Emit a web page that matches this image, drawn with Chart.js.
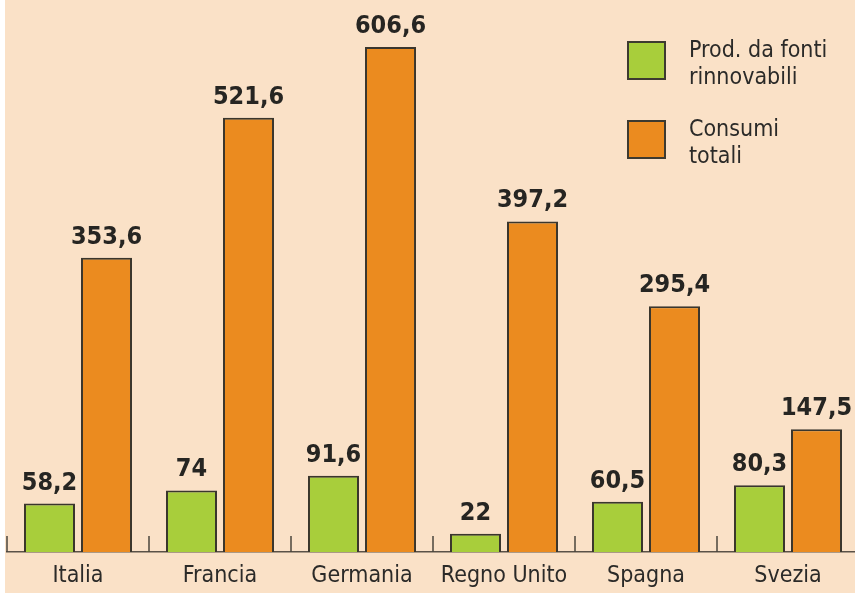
<!DOCTYPE html>
<html>
<head>
<meta charset="utf-8">
<script src="https://cdn.jsdelivr.net/npm/chart.js@4.4.1/dist/chart.umd.min.js"></script>
<style>
  html, body { margin: 0; padding: 0; background: #ffffff; overflow: hidden; }
  #wrap { position: absolute; left: 5px; top: 0; width: 860px; height: 593px; background: #fae1c7; }
  #legend { position: absolute; left: 622px; top: 41px; font-family: "DejaVu Sans Condensed", "DejaVu Sans", sans-serif; font-size: 23px; color: #2b2a28; }
  .item { display: flex; align-items: flex-start; margin-bottom: 30px; }
  .box { width: 35px; height: 35px; border: 2px solid #3d3a30; margin-right: 23px; flex: none; }
  .txt { line-height: 27px; margin-top: -5px; }
</style>
</head>
<body>
<div id="wrap">
  <canvas id="chart"></canvas>
  <div id="legend"></div>
</div>
<script>
const countries = ['Italia', 'Francia', 'Germania', 'Regno Unito', 'Spagna', 'Svezia'];
const rinnovabili = [58.2, 74, 91.6, 22, 60.5, 80.3];
const consumi = [353.6, 521.6, 606.6, 397.2, 295.4, 147.5];
const seriesNames = [['Prod. da fonti', 'rinnovabili'], ['Consumi', 'totali']];
const seriesColors = ['#a8ce3b', '#eb8b1f'];

const fmt = v => String(v).replace('.', ',');

// little upward tick marks between the categories
const sepTicks = {
  id: 'sepTicks',
  beforeDatasetsDraw(chart) {
    const x = chart.scales.x;
    const ctx = chart.ctx;
    const n = chart.data.labels.length;
    const step = (x.right - x.left) / n;
    ctx.save();
    ctx.strokeStyle = '#4a443c';
    ctx.lineWidth = 1.5;
    for (let i = 0; i <= n; i++) {
      const px = x.left + i * step;
      ctx.beginPath();
      ctx.moveTo(px, x.top);
      ctx.lineTo(px, x.top - 16);
      ctx.stroke();
    }
    ctx.restore();
  }
};

// values above bars
const barValues = {
  id: 'barValues',
  afterDatasetsDraw(chart) {
    const ctx = chart.ctx;
    ctx.save();
    ctx.font = 'bold 25px "DejaVu Sans Condensed", "DejaVu Sans", sans-serif';
    ctx.fillStyle = '#262522';
    ctx.textAlign = 'center';
    ctx.textBaseline = 'alphabetic';
    chart.data.datasets.forEach((ds, di) => {
      chart.getDatasetMeta(di).data.forEach((bar, i) => {
        ctx.fillText(fmt(ds.data[i]), bar.x, bar.y - 14);
      });
    });
    ctx.restore();
  }
};

const chart = new Chart(document.getElementById('chart'), {
  type: 'bar',
  data: {
    labels: countries,
    datasets: [
      { label: seriesNames[0].join(' '), data: rinnovabili, backgroundColor: seriesColors[0] },
      { label: seriesNames[1].join(' '), data: consumi, backgroundColor: seriesColors[1] }
    ]
  },
  options: {
    responsive: true,
    maintainAspectRatio: false,
    animation: false,
    layout: { padding: { top: 11, left: 2, right: 6, bottom: 0 } },
    datasets: {
      bar: {
        categoryPercentage: 0.803,
        barPercentage: 0.895,
        borderColor: '#3a362d',
        borderWidth: 2
      }
    },
    plugins: {
      legend: { display: false },
      tooltip: { enabled: false }
    },
    scales: {
      x: {
        grid: { display: false, drawTicks: false },
        border: { display: true, color: '#5a5248', width: 1.5 },
        ticks: {
          color: '#2b2a28',
          padding: 10,
          font: { family: '"DejaVu Sans Condensed", "DejaVu Sans", sans-serif', size: 23 }
        },
        afterFit(scale) { scale.height = 41; }
      },
      y: {
        display: false,
        min: 0,
        max: 650
      }
    }
  },
  plugins: [sepTicks, barValues]
});

const legend = document.getElementById('legend');
seriesNames.forEach((lines, i) => {
  const item = document.createElement('div');
  item.className = 'item';
  const box = document.createElement('div');
  box.className = 'box';
  box.style.background = seriesColors[i];
  const txt = document.createElement('div');
  txt.className = 'txt';
  txt.innerHTML = lines.join('<br>');
  item.appendChild(box);
  item.appendChild(txt);
  legend.appendChild(item);
});
</script>
</body>
</html>
